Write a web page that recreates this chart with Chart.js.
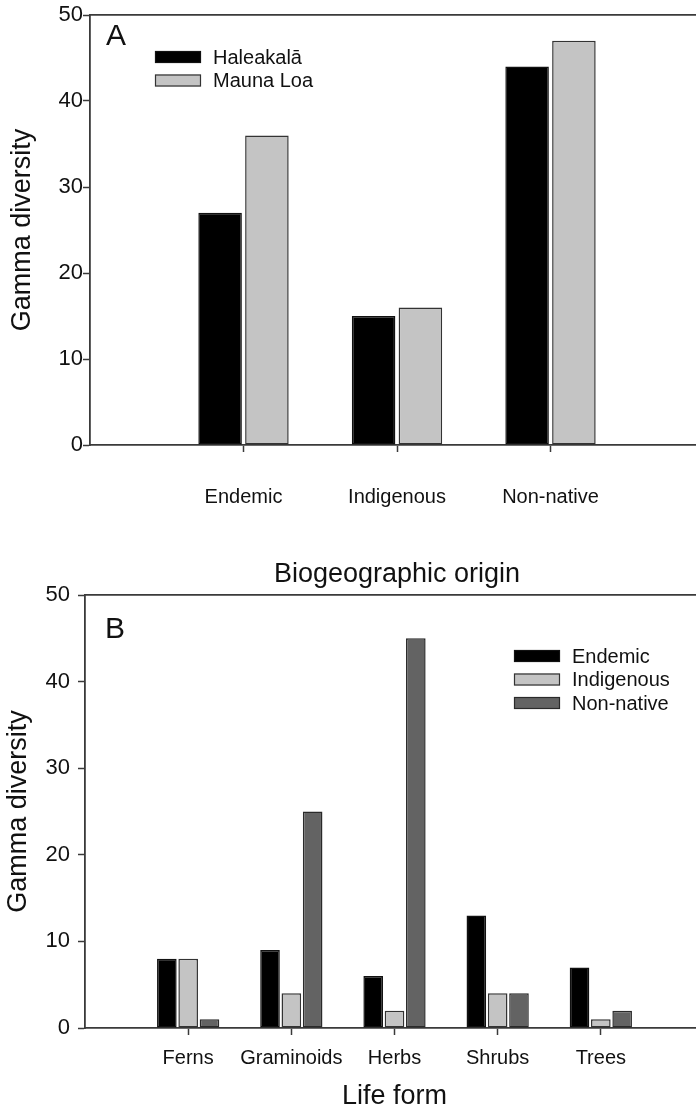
<!DOCTYPE html>
<html>
<head>
<meta charset="utf-8">
<script src="https://cdn.jsdelivr.net/npm/chart.js@4/dist/chart.umd.min.js"></script>
<style>
  html, body { margin: 0; padding: 0; background: #fff; overflow: hidden; }
  #wrap { position: relative; width: 696px; height: 1111px; overflow: hidden; }
  canvas { position: absolute; left: 0; }
  #chartA { top: 0; }
  #chartB { top: 570px; }
</style>
</head>
<body>
<div id="wrap">
  <canvas id="chartA" width="712" height="600"></canvas>
  <canvas id="chartB" width="712" height="541"></canvas>
</div>
<script>
// panel A: gamma diversity by biogeographic origin
const originLabels = ['Endemic', 'Indigenous', 'Non-native'];
const haleakala = [27, 15, 44];
const maunaLoa = [36, 16, 47];

// panel B: gamma diversity by life form
const lifeForms = ['Ferns', 'Graminoids', 'Herbs', 'Shrubs', 'Trees'];
const endemic = [8, 9, 6, 13, 7];
const indigenous = [8, 4, 2, 4, 1];
const nonNative = [1, 25, 45, 4, 2];

const yMin = 0, yMax = 50, yStep = 10;

const FONT = '"Liberation Sans", Arial, Helvetica, sans-serif';
const AXIS = '#3a3a3a';
const TEXT = '#111';

// category i sits at x = i + 1 on a linear axis, like the original plot
const toPoints = (vals) => vals.map((v, i) => ({ x: i + 1, y: v }));

const panelDecor = {
    id: 'panelDecor',
    afterDraw(chart, args, opts) {
        const ctx = chart.ctx;
        const a = chart.chartArea;
        ctx.save();
        ctx.fillStyle = TEXT;
        ctx.textBaseline = 'middle';
        ctx.textAlign = 'left';
        ctx.font = '30px ' + FONT;
        ctx.fillText(opts.letter, a.left + opts.letterX, a.top + opts.letterY);
        ctx.font = '20px ' + FONT;
        chart.data.datasets.forEach((ds, i) => {
            const x = a.left + opts.legendX;
            const y = a.top + opts.legendY + i * opts.rowGap;
            ctx.fillStyle = ds.backgroundColor;
            ctx.fillRect(x, y - 6, 46, 12);
            ctx.strokeStyle = ds.borderColor;
            ctx.lineWidth = 1.2;
            ctx.strokeRect(x + 0.5, y - 5.5, 45, 11);
            ctx.fillStyle = TEXT;
            ctx.fillText(ds.label, x + 58, y + 1);
        });
        ctx.restore();
    }
};

function makePanel(canvasId, cfg) {
    const n = cfg.labels.length;
    return new Chart(document.getElementById(canvasId), {
        type: 'bar',
        data: { datasets: cfg.datasets },
        options: {
            responsive: false,
            animation: false,
            events: [],
            layout: { padding: { top: cfg.padTop, right: cfg.padRight, left: 0, bottom: 0 } },
            datasets: {
                bar: {
                    categoryPercentage: cfg.catPct,
                    barPercentage: cfg.barPct,
                    borderWidth: 1.5,
                    borderSkipped: false
                }
            },
            scales: {
                x: {
                    type: 'linear',
                    offset: false,
                    min: 0,
                    max: n + 1,
                    afterFit: (s) => {
                        s.height = cfg.xHeight;
                        s.paddingLeft = 0;
                        s.paddingRight = 0;
                    },
                    ticks: {
                        stepSize: 1,
                        autoSkip: false,
                        maxRotation: 0,
                        padding: cfg.xTickPad,
                        color: TEXT,
                        font: { family: FONT, size: 20 },
                        callback: (v) => cfg.labels[v - 1] || ''
                    },
                    grid: {
                        offset: false,
                        drawOnChartArea: false,
                        drawTicks: true,
                        tickLength: 7,
                        tickWidth: 1.5,
                        tickColor: (c) => (c.tick && c.tick.value >= 1 && c.tick.value <= n) ? AXIS : 'rgba(0,0,0,0)'
                    },
                    border: { display: true, color: AXIS, width: 1.8 },
                    title: {
                        display: true,
                        text: cfg.xTitle,
                        color: TEXT,
                        font: { family: FONT, size: 27, lineHeight: 1 },
                        padding: { top: 0, bottom: cfg.xTitlePad }
                    }
                },
                xTop: {
                    type: 'linear',
                    position: 'top',
                    offset: false,
                    min: 0,
                    max: n + 1,
                    afterFit: (s) => {
                        s.height = 0;
                        s.paddingLeft = 0;
                        s.paddingRight = 0;
                    },
                    ticks: { display: false },
                    grid: { display: false, drawTicks: false },
                    border: { display: true, color: AXIS, width: 1.8 }
                },
                y: {
                    min: yMin,
                    max: yMax,
                    afterFit: (s) => { s.width = cfg.yWidth; },
                    ticks: {
                        stepSize: yStep,
                        padding: cfg.yTickPad,
                        color: TEXT,
                        font: { family: FONT, size: 22 }
                    },
                    grid: {
                        drawOnChartArea: false,
                        drawTicks: true,
                        tickLength: 7,
                        tickWidth: 1.5,
                        tickColor: AXIS
                    },
                    border: { display: true, color: AXIS, width: 1.8 },
                    title: {
                        display: true,
                        text: 'Gamma diversity',
                        color: TEXT,
                        font: { family: FONT, size: 27 },
                        padding: { top: cfg.yTitlePad, bottom: 0 }
                    }
                }
            },
            plugins: {
                legend: { display: false },
                tooltip: { enabled: false },
                panelDecor: cfg.decor
            }
        },
        plugins: [panelDecor]
    });
}

makePanel('chartA', {
    labels: originLabels,
    datasets: [
        { label: 'Haleakalā', data: toPoints(haleakala), backgroundColor: '#000000', borderColor: '#111111' },
        { label: 'Mauna Loa', data: toPoints(maunaLoa), backgroundColor: '#c4c4c4', borderColor: '#333333' }
    ],
    padTop: 15, padRight: 8,
    xHeight: 155, yWidth: 90,
    xTickPad: 33, xTitlePad: 12,
    yTickPad: 0, yTitlePad: 6,
    catPct: 0.61, barPct: 0.93,
    xTitle: 'Biogeographic origin',
    decor: { letter: 'A', letterX: 16, letterY: 22, legendX: 65, legendY: 42, rowGap: 23.5 }
});

makePanel('chartB', {
    labels: lifeForms,
    datasets: [
        { label: 'Endemic', data: toPoints(endemic), backgroundColor: '#000000', borderColor: '#111111' },
        { label: 'Indigenous', data: toPoints(indigenous), backgroundColor: '#c4c4c4', borderColor: '#333333' },
        { label: 'Non-native', data: toPoints(nonNative), backgroundColor: '#636363', borderColor: '#2a2a2a' }
    ],
    padTop: 25, padRight: 8,
    xHeight: 83, yWidth: 85,
    xTickPad: 11, xTitlePad: 1,
    yTickPad: 8, yTitlePad: 2,
    catPct: 0.62, barPct: 0.92,
    xTitle: 'Life form',
    decor: { letter: 'B', letterX: 20, letterY: 35, legendX: 429, legendY: 61, rowGap: 23.5 }
});
</script>
</body>
</html>
